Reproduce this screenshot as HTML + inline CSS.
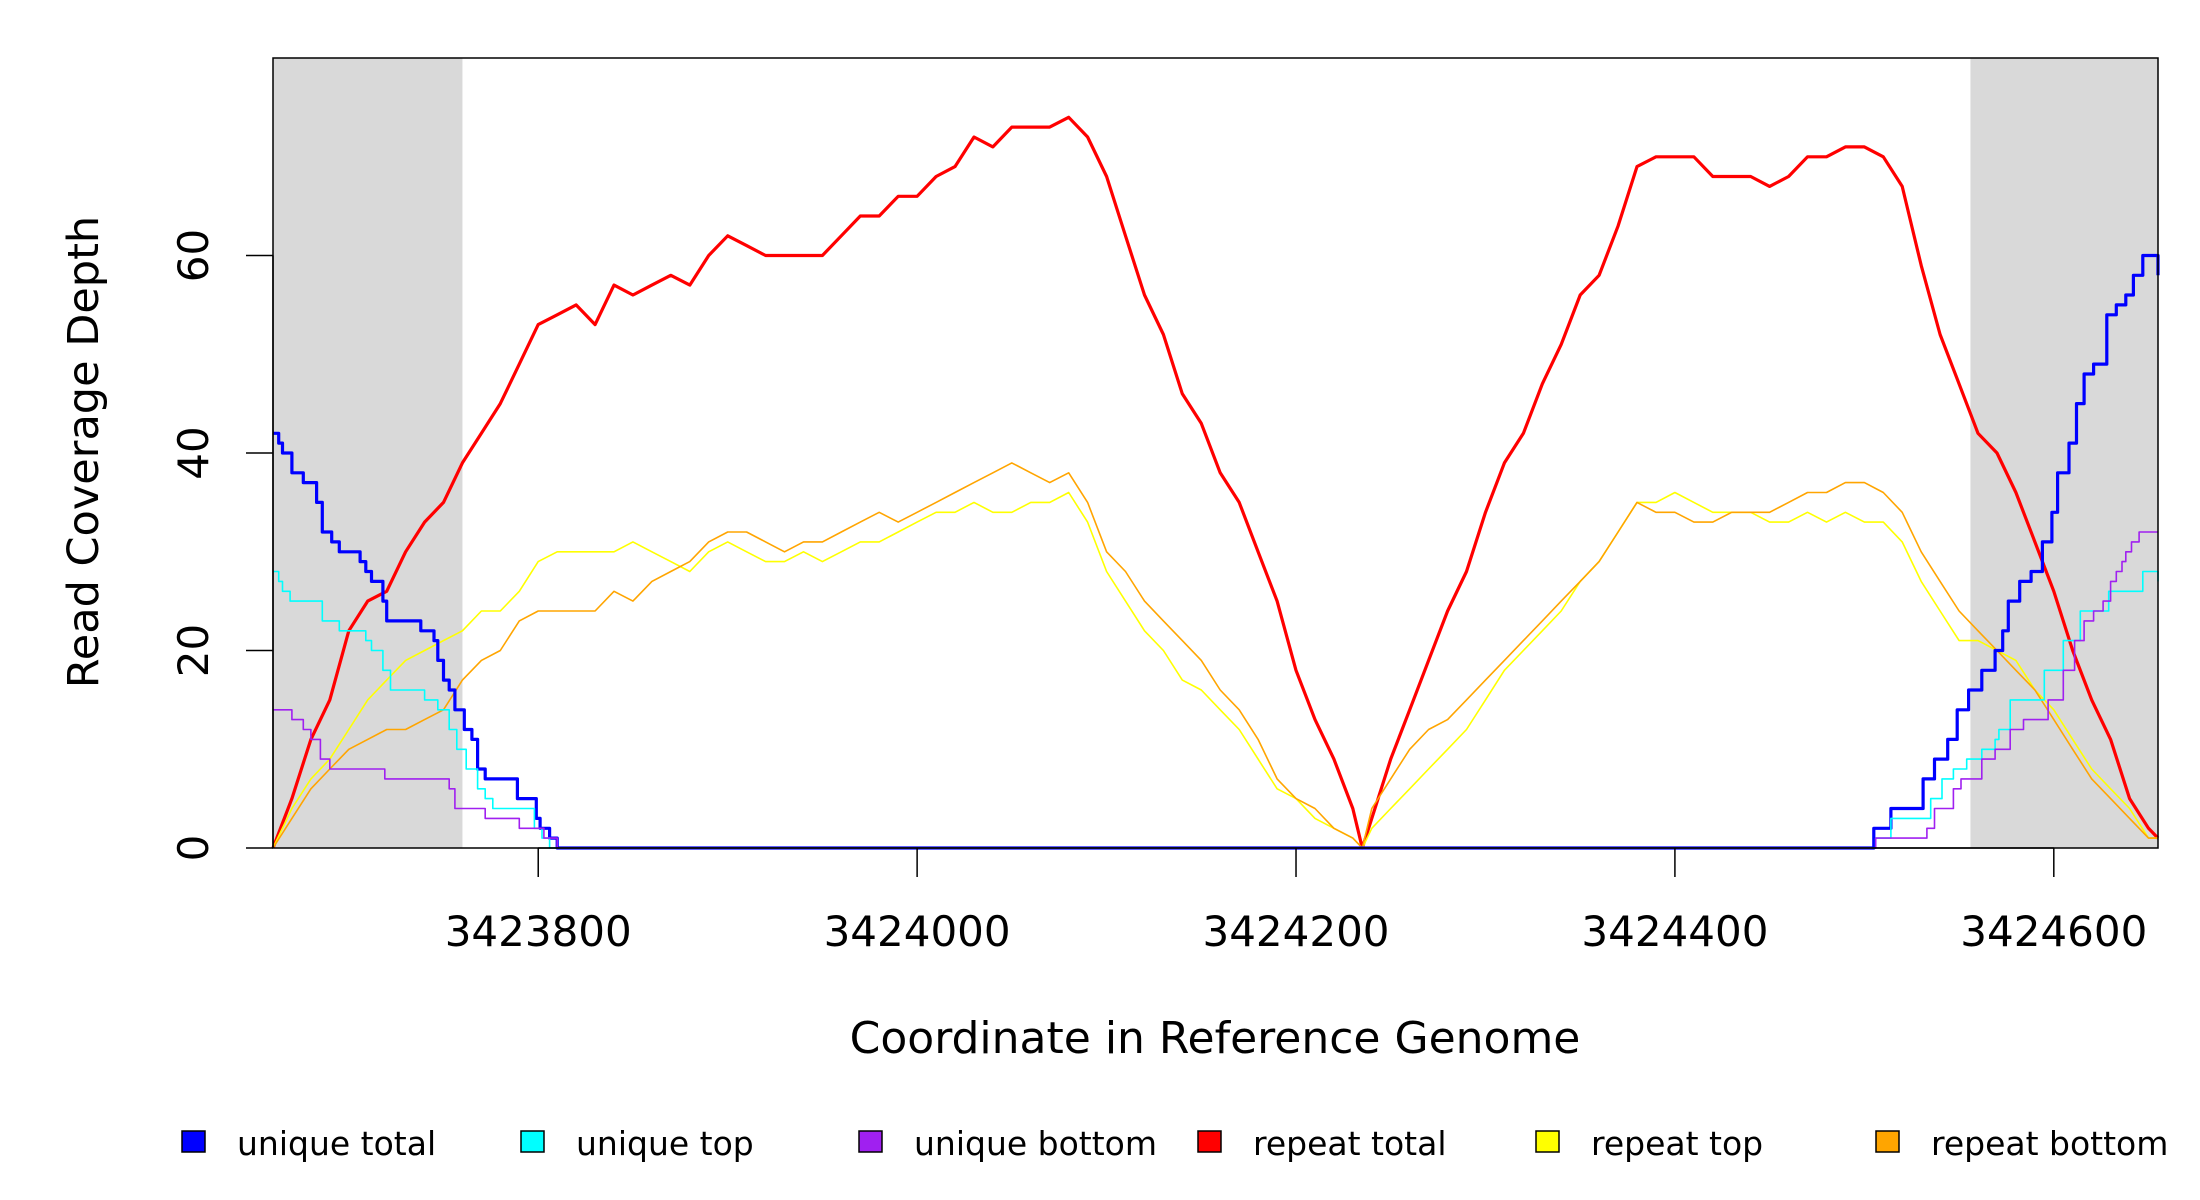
<!DOCTYPE html>
<html><head><meta charset="utf-8"><style>
html,body{margin:0;padding:0;background:#fff;}
svg{display:block;font-family:"DejaVu Sans","Liberation Sans",sans-serif;}
</style></head><body>
<svg id="chart" width="2200" height="1200" viewBox="0 0 2200 1200" xmlns="http://www.w3.org/2000/svg">
<g id="plot"></g>
<text x="0" y="0" transform="translate(98,452) rotate(-90)" font-size="43" text-anchor="middle">Read Coverage Depth</text>
<text x="1215" y="1053" font-size="44" text-anchor="middle">Coordinate in Reference Genome</text>
<g id="legend"></g>
</svg>
<script>
const xStart = 3423660;
const xEnd = 3424655;
const yMax = 80;
const xTicks = [3423800, 3424000, 3424200, 3424400, 3424600];
const yTicks = [0, 20, 40, 60];
const shadedRegions = [[3423660, 3423760], [3424556, 3424655]];
// repeat series sampled every 10 bp (offsets from xStart)
const repeatX = [0,10,20,30,40,50,60,70,80,90,100,110,120,130,140,150,160,170,180,190,200,210,220,230,240,250,260,270,280,290,300,310,320,330,340,350,360,370,380,390,400,410,420,430,440,450,460,470,480,490,500,510,520,530,540,550,560,570,575,580,590,600,610,620,630,640,650,660,670,680,690,700,710,720,730,740,750,760,770,780,790,800,810,820,830,840,850,860,870,880,890,900,910,920,930,940,950,960,970,980,990,995];
const repeatTotal = [0,5,11,15,22,25,26,30,33,35,39,42,45,49,53,54,55,53,57,56,57,58,57,60,62,61,60,60,60,60,62,64,64,66,66,68,69,72,71,73,73,73,74,72,68,62,56,52,46,43,38,35,30,25,18,13,9,4,0,3,9,14,19,24,28,34,39,42,47,51,56,58,63,69,70,70,70,68,68,68,67,68,70,70,71,71,70,67,59,52,47,42,40,36,31,26,20,15,11,5,2,1];
const repeatTop = [0,4,7,9,12,15,17,19,20,21,22,24,24,26,29,30,30,30,30,31,30,29,28,30,31,30,29,29,30,29,30,31,31,32,33,34,34,35,34,34,35,35,36,33,28,25,22,20,17,16,14,12,9,6,5,3,2,1,0,2,4,6,8,10,12,15,18,20,22,24,27,29,32,35,35,36,35,34,34,34,33,33,34,33,34,33,33,31,27,24,21,21,20,19,16,14,11,8,6,4,1,1];
const repeatBottom = [0,3,6,8,10,11,12,12,13,14,17,19,20,23,24,24,24,24,26,25,27,28,29,31,32,32,31,30,31,31,32,33,34,33,34,35,36,37,38,39,38,37,38,35,30,28,25,23,21,19,16,14,11,7,5,4,2,1,0,4,7,10,12,13,15,17,19,21,23,25,27,29,32,35,34,34,33,33,34,34,34,35,36,36,37,37,36,34,30,27,24,22,20,18,16,13,10,7,5,3,1,1];
// unique series as step changes (bp offset, value)
const uniqueTotalX = [0,3,5,10,16,23,26,31,35,46,49,52,58,60,78,85,87,90,93,96,101,105,108,112,129,139,141,146,150,845,854,871,877,884,889,895,902,909,913,916,922,928,934,939,942,948,952,956,961,968,973,978,982,987,995];
const uniqueTotal = [42,41,40,38,37,35,32,31,30,29,28,27,25,23,22,21,19,17,16,14,12,11,8,7,5,3,2,1,0,2,4,7,9,11,14,16,18,20,22,25,27,28,31,34,38,41,45,48,49,54,55,56,58,60,58];
const uniqueTopX = [0,3,5,9,26,35,49,52,58,62,80,87,93,97,102,108,112,116,138,142,146,846,854,875,881,887,894,902,909,911,917,935,945,954,969,987,995];
const uniqueTop = [28,27,26,25,23,22,21,20,18,16,15,14,12,10,8,6,5,4,2,1,0,1,3,5,7,8,9,10,11,12,15,18,21,24,26,28,27];
const uniqueBottomX = [0,10,16,20,25,30,59,93,96,112,130,143,150,846,873,877,887,891,902,909,917,924,937,945,951,956,961,966,970,973,976,978,981,985,995];
const uniqueBottom = [14,13,12,11,9,8,7,6,4,3,2,1,0,1,2,4,6,7,9,10,12,13,15,18,21,23,24,25,27,28,29,30,31,32,32];
const legendLabels = ["unique total","unique top","unique bottom","repeat total","repeat top","repeat bottom"];
const legendColors = ["#0000ff","#00ffff","#a020f0","#ff0000","#ffff00","#ffa500"];

const L=273,R=2158,T=58,B=848;
const NS="http://www.w3.org/2000/svg";
function sx(v){return L+(v-xStart)/(xEnd-xStart)*(R-L);}
function sy(v){return B-v/yMax*(B-T);}
function mk(tag,attrs,parent){const e=document.createElementNS(NS,tag);for(const k in attrs)e.setAttribute(k,attrs[k]);parent.appendChild(e);return e;}
const plot=document.getElementById('plot');

shadedRegions.forEach((r,i)=>{
  const e=mk('rect',{x:sx(r[0]),y:T,width:sx(r[1])-sx(r[0]),height:B-T,fill:'#d9d9d9'},plot);
  
  
});

function linePath(xs,ys){return xs.map((x,i)=>(i?'L':'M')+sx(xStart+x).toFixed(1)+','+sy(ys[i]).toFixed(1)).join('');}
function stepPath(xs,ys){let d='';for(let i=0;i<xs.length;i++){const X=sx(xStart+xs[i]).toFixed(1),Y=sy(ys[i]).toFixed(1);if(i===0)d+='M'+X+','+Y;else d+='H'+X+'V'+Y;}d+='H'+sx(xEnd).toFixed(1);return d;}

const series=[
  {name:'repeat-total-line',d:linePath(repeatX,repeatTotal),c:'#ff0000',w:3.2},
  {name:'repeat-top-line',d:linePath(repeatX,repeatTop),c:'#ffff00',w:1.6},
  {name:'repeat-bottom-line',d:linePath(repeatX,repeatBottom),c:'#ffa500',w:1.6},
  {name:'unique-total-line',d:stepPath(uniqueTotalX,uniqueTotal),c:'#0000ff',w:3.2},
  {name:'unique-top-line',d:stepPath(uniqueTopX,uniqueTop),c:'#00ffff',w:1.6},
  {name:'unique-bottom-line',d:stepPath(uniqueBottomX,uniqueBottom),c:'#a020f0',w:1.6}
];
series.forEach(s=>{
  const e=mk('path',{d:s.d,fill:'none',stroke:s.c,'stroke-width':s.w,'stroke-linejoin':'round'},plot);
  
  
});

const box=mk('rect',{x:L,y:T,width:R-L,height:B-T,fill:'none',stroke:'#000','stroke-width':1.5},plot);



const xa=mk('g',{},plot);


mk('line',{x1:sx(xTicks[0]),x2:sx(xTicks[xTicks.length-1]),y1:B,y2:B,stroke:'#000','stroke-width':1.5},xa);
xTicks.forEach(t=>{
  mk('line',{x1:sx(t),x2:sx(t),y1:B,y2:B+29,stroke:'#000','stroke-width':1.5},xa);
  const tx=mk('text',{x:sx(t),y:946,'font-size':42,'text-anchor':'middle'},xa);
  tx.textContent=t;
  
  
});
const ya=mk('g',{},plot);


mk('line',{x1:L,x2:L,y1:sy(yTicks[0]),y2:sy(yTicks[yTicks.length-1]),stroke:'#000','stroke-width':1.5},ya);
yTicks.forEach(t=>{
  mk('line',{x1:L-27,x2:L,y1:sy(t),y2:sy(t),stroke:'#000','stroke-width':1.5},ya);
  const tx=mk('text',{x:0,y:0,'font-size':42,'text-anchor':'middle',transform:'translate(208,'+sy(t)+') rotate(-90)'},ya);
  tx.textContent=t;
  
  
});

const lg=document.getElementById('legend');
const lgX=[182,521,859,1198,1536,1876];
legendLabels.forEach((lab,i)=>{
  const g=mk('g',{},lg);
  
  
  mk('rect',{x:lgX[i],y:1131,width:23,height:21,fill:legendColors[i],stroke:'#000','stroke-width':1.5},g);
  const tx=mk('text',{x:lgX[i]+55,y:1155,'font-size':33},g);
  tx.textContent=lab;
});
</script>
</body></html>
